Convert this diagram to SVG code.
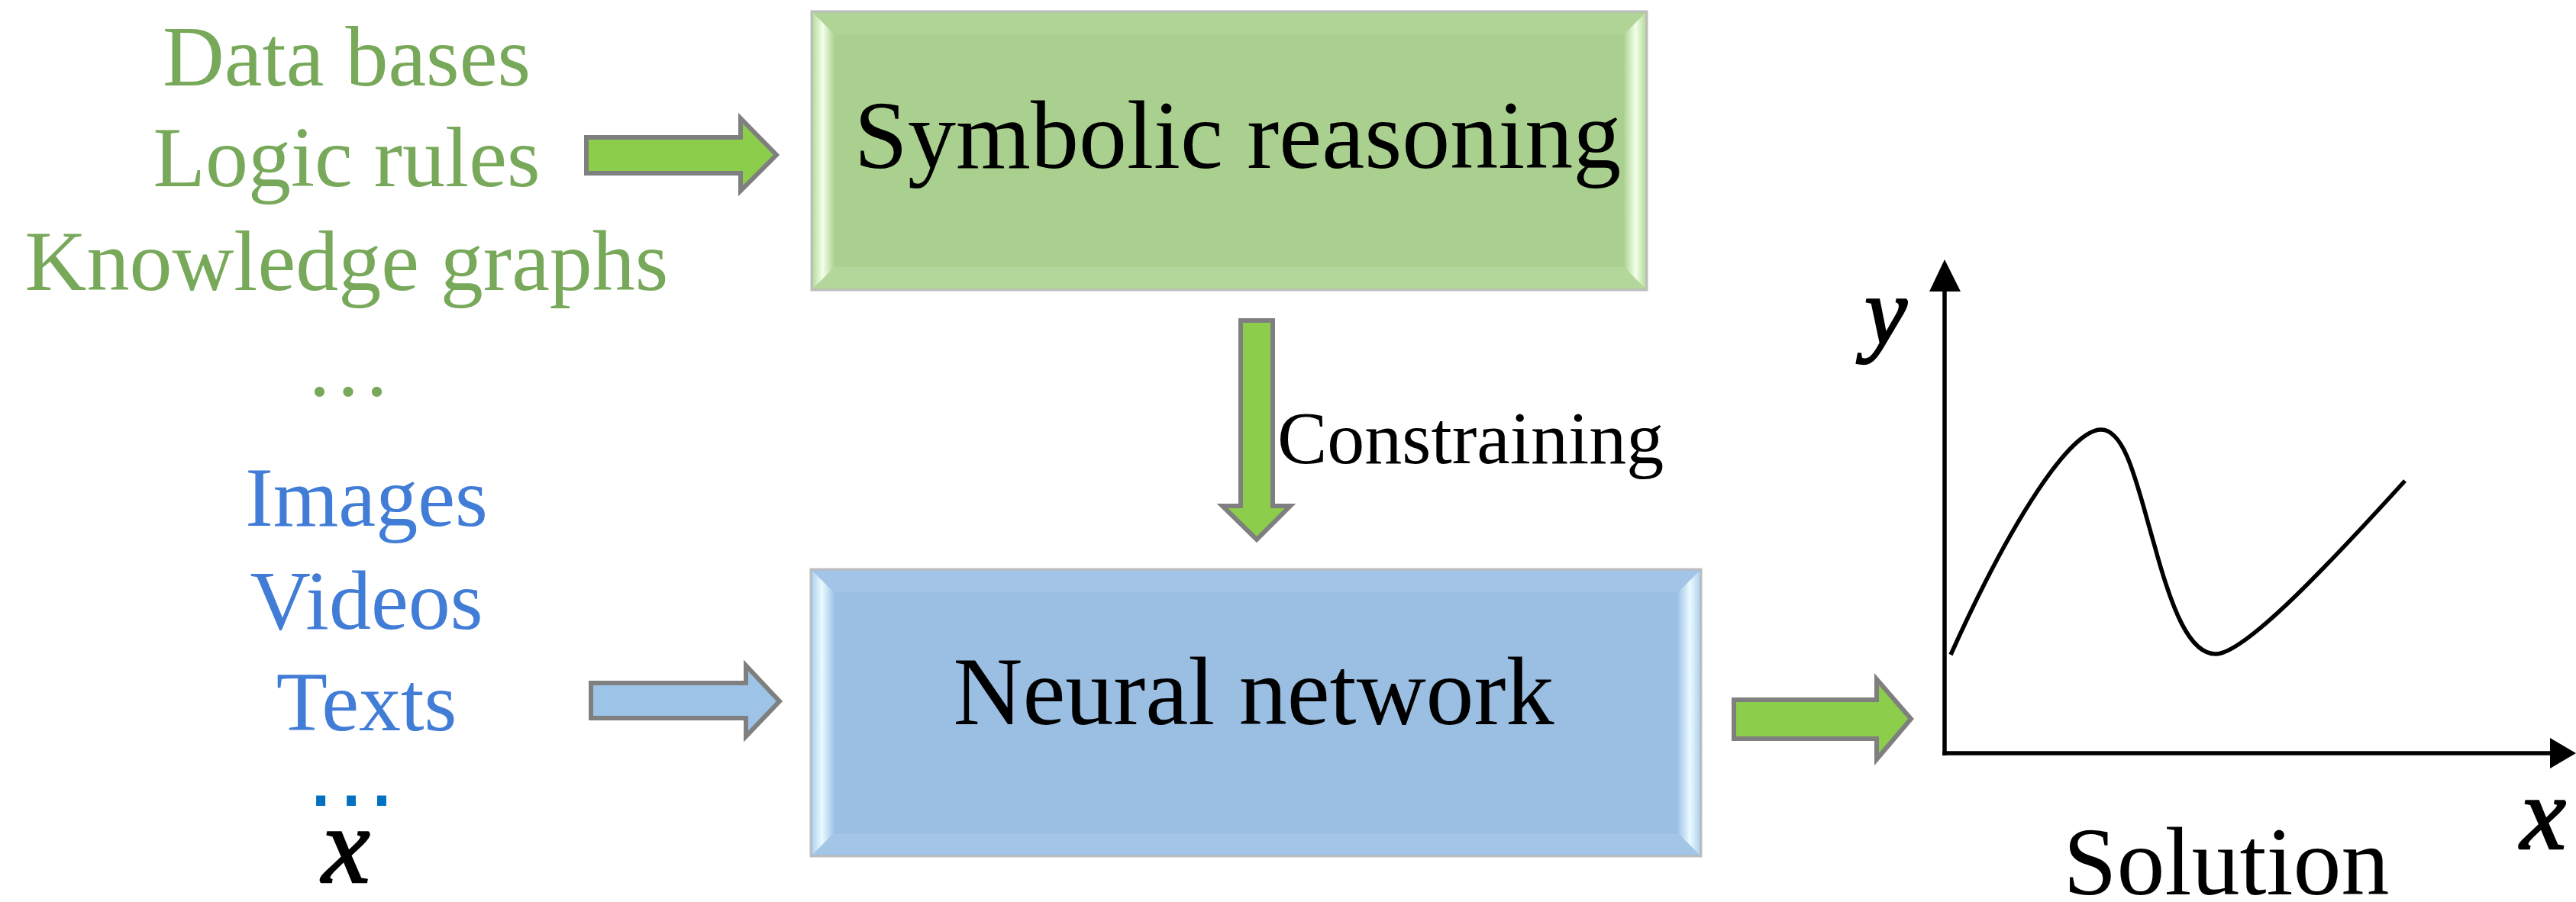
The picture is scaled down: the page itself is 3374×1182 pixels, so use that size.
<svg xmlns="http://www.w3.org/2000/svg" width="3374" height="1182" viewBox="0 0 3374 1182">
  <defs>
    <style>
      .serif { font-family: "Liberation Serif", "Times New Roman", serif; }
      .src-green { fill: #78a95a; font-size: 112px; text-anchor: middle; }
      .src-blue { fill: #417dd6; font-size: 110px; text-anchor: middle; }
      .box-label { fill: #000; font-size: 126px; text-anchor: middle; }
      .math { font-family: "Liberation Serif", "Times New Roman", serif; font-style: italic; fill: #000; stroke: #000; stroke-width: 2.5; }
      .frame { stroke: #bdbdbd; stroke-width: 3; }
      .arrow { stroke: #7f7f7f; stroke-width: 6; stroke-linejoin: miter; }
      .axis { stroke: #000; stroke-width: 5.5; fill: none; }
    </style>
    <!-- bevel faces: bright sheen on left/right faces -->
    <linearGradient id="greenSideL" x1="0" y1="0" x2="1" y2="0">
      <stop offset="0" stop-color="#b9dca0"/>
      <stop offset="0.45" stop-color="#f2ffe9"/>
      <stop offset="1" stop-color="#aed293"/>
    </linearGradient>
    <linearGradient id="greenSideR" x1="1" y1="0" x2="0" y2="0">
      <stop offset="0" stop-color="#b9dca0"/>
      <stop offset="0.45" stop-color="#f2ffe9"/>
      <stop offset="1" stop-color="#aed293"/>
    </linearGradient>
    <linearGradient id="blueSideL" x1="0" y1="0" x2="1" y2="0">
      <stop offset="0" stop-color="#b3d4f0"/>
      <stop offset="0.45" stop-color="#eafaff"/>
      <stop offset="1" stop-color="#a3c6e8"/>
    </linearGradient>
    <linearGradient id="blueSideR" x1="1" y1="0" x2="0" y2="0">
      <stop offset="0" stop-color="#b3d4f0"/>
      <stop offset="0.45" stop-color="#eafaff"/>
      <stop offset="1" stop-color="#a3c6e8"/>
    </linearGradient>
  </defs>

  <rect width="3374" height="1182" fill="#ffffff"/>

  <!-- knowledge sources -->
  <g id="symbolic-sources" class="serif">
    <text class="src-green" x="454" y="112">Data bases</text>
    <text class="src-green" x="454" y="244">Logic rules</text>
    <text class="src-green" x="454" y="380">Knowledge graphs</text>
    <text class="src-green" x="456" y="518" font-size="126">…</text>
  </g>

  <!-- data sources -->
  <g id="data-sources" class="serif">
    <text class="src-blue" x="480" y="689">Images</text>
    <text class="src-blue" x="480" y="824">Videos</text>
    <text class="src-blue" x="480" y="957">Texts</text>
    <text x="460" y="1056" fill="#0070c0" font-size="126" text-anchor="middle" font-family="Liberation Sans, Arial, sans-serif">…</text>
    <text class="math" x="453" y="1156" font-size="142" text-anchor="middle">x</text>
  </g>

  <!-- Symbolic reasoning box -->
  <g id="symbolic-reasoning">
    <rect class="frame" x="1063" y="15" width="1094" height="365" fill="#a9d08e"/>
    <polygon points="1065,17 2155,17 2127,45 1093,45" fill="#b0d495"/>
    <polygon points="1065,378 1093,350 2127,350 2155,378" fill="#b3d69b"/>
    <polygon points="1065,17 1093,45 1093,350 1065,378" fill="url(#greenSideL)"/>
    <polygon points="2155,17 2127,45 2127,350 2155,378" fill="url(#greenSideR)"/>
    <text class="serif box-label" x="1621" y="220">Symbolic reasoning</text>
  </g>

  <!-- Neural network box -->
  <g id="neural-network">
    <rect class="frame" x="1062" y="746" width="1166" height="376" fill="#9bbfe3"/>
    <polygon points="1064,748 2226,748 2198,776 1092,776" fill="#a2c4e6"/>
    <polygon points="1064,1120 1092,1092 2198,1092 2226,1120" fill="#a3c5e7"/>
    <polygon points="1064,748 1092,776 1092,1092 1064,1120" fill="url(#blueSideL)"/>
    <polygon points="2226,748 2198,776 2198,1092 2226,1120" fill="url(#blueSideR)"/>
    <text class="serif box-label" x="1642" y="949">Neural network</text>
  </g>

  <!-- Solution plot -->
  <g id="solution">
    <line class="axis" x1="2547" y1="990" x2="2547" y2="378"/>
    <polygon points="2547,340 2527,382 2568,382" fill="#000"/>
    <line class="axis" x1="2544" y1="987" x2="3344" y2="987"/>
    <polygon points="3374,987 3340,967 3340,1007" fill="#000"/>
    <path class="axis" d="M2555,858 C2635,680 2712,563 2752,563 C2785,563 2800,640 2822,715 C2845,800 2868,857 2902,857 C2940,857 3050,740 3150,630"/>
    <text class="math" x="2470" y="450" font-size="125" text-anchor="middle">y</text>
    <text class="math" x="3331" y="1112" font-size="135" text-anchor="middle">x</text>
    <text class="serif box-label" x="2916" y="1172">Solution</text>
  </g>

  <!-- connectors -->
  <g id="connectors" class="arrow">
    <polygon points="768,180 970,180 970,155 1017,203 970,250 970,227 768,227" fill="#8ccd4b"/>
    <polygon points="774,895 977,895 977,872 1021,919 977,965 977,941 774,941" fill="#9dc3e6"/>
    <polygon points="2271,917 2458,917 2458,890 2503,942 2458,995 2458,968 2271,968" fill="#8ccd4b"/>
    <polygon points="1625,420 1667,420 1667,663 1690,663 1646,707 1601,663 1625,663" fill="#8ccd4b"/>
  </g>
  <text class="serif" x="1673" y="607" font-size="98" fill="#000">Constraining</text>
</svg>
